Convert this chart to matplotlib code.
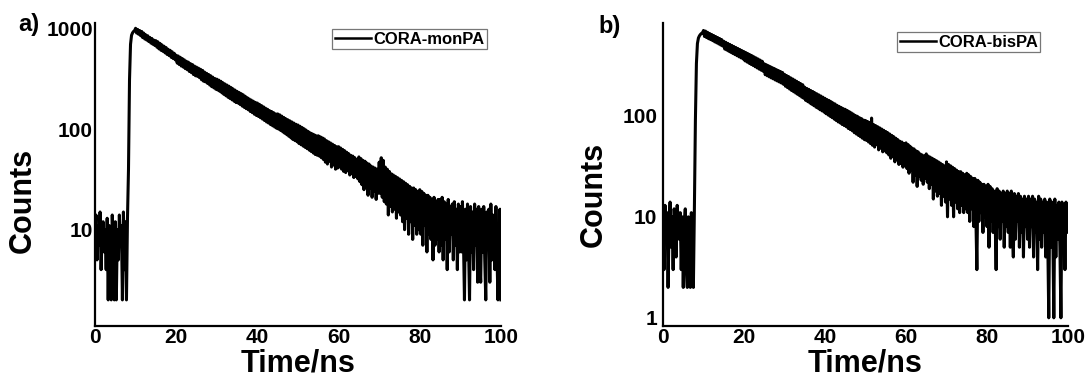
import numpy as np
import matplotlib
matplotlib.use('Agg')
import matplotlib.pyplot as plt
from matplotlib.ticker import NullLocator

plt.rcParams['font.family'] = ['Liberation Sans', 'DejaVu Sans']
plt.rcParams['font.weight'] = 'bold'

## TCSPC decay histograms, one value per 0.25 ns channel (0 - 100 ns)
channel_ns = 0.25

counts_monPA = [
    8, 14, 5, 11, 7, 15, 4, 9, 12, 6, 10, 4, 13, 2, 11, 5, 2, 14, 6, 2,
    12, 2, 10, 5, 14, 7, 11, 2, 15, 4, 12, 2, 13, 40, 310, 700, 860, 910, 940, 955,
    1010, 905, 985, 880, 960, 850, 940, 815, 905, 790, 870, 770, 850, 745, 820, 720, 800, 700, 770, 680,
    760, 655, 740, 630, 715, 610, 690, 595, 670, 575, 650, 555, 625, 540, 610, 520, 590, 505, 570, 490,
    545, 455, 535, 440, 520, 425, 505, 415, 490, 400, 475, 390, 465, 375, 450, 365, 440, 350, 425, 340,
    415, 335, 405, 325, 395, 310, 385, 300, 370, 295, 360, 285, 350, 275, 340, 265, 330, 258, 320, 250,
    315, 245, 308, 238, 300, 230, 290, 222, 282, 215, 275, 208, 268, 202, 260, 196, 252, 190, 245, 184,
    238, 182, 232, 176, 226, 170, 220, 165, 213, 160, 206, 156, 200, 150, 195, 146, 190, 141, 185, 137,
    182, 134, 177, 130, 172, 126, 167, 122, 162, 118, 158, 115, 153, 111, 150, 108, 146, 105, 142, 102,
    142, 100, 139, 97, 135, 94, 131, 91, 127, 88, 124, 85, 121, 82, 118, 79, 115, 77, 112, 75,
    110, 72, 107, 70, 104, 68, 101, 66, 98, 64, 95, 62, 92, 60, 90, 58, 88, 56, 86, 55,
    86, 54, 84, 52, 82, 50, 80, 47, 77, 45, 75, 48, 73, 42, 71, 44, 69, 40, 67, 41,
    67, 42, 65, 40, 63, 38, 61, 37, 59, 39, 57, 35, 55, 36, 54, 33, 52, 34, 50, 32,
    53, 30, 51, 28, 49, 25, 48, 27, 46, 22, 45, 26, 43, 21, 42, 24, 41, 20, 40, 23,
    47, 23, 52, 21, 49, 19, 42, 18, 40, 14, 38, 17, 36, 15, 35, 16, 34, 13, 33, 15,
    32, 14, 31, 12, 30, 10, 29, 13, 28, 9, 27, 12, 26, 8, 26, 11, 25, 9, 24, 10,
    25, 9, 24, 7, 23, 11, 22, 6, 22, 9, 21, 8, 20, 5, 21, 7, 19, 8, 20, 6,
    20, 7, 21, 5, 19, 8, 18, 4, 20, 6, 17, 9, 18, 5, 19, 7, 16, 4, 18, 6,
    17, 6, 19, 8, 2, 16, 5, 18, 7, 2, 17, 6, 15, 4, 18, 7, 16, 3, 17, 5,
    3, 16, 6, 17, 5, 2, 15, 7, 16, 3, 18, 5, 14, 6, 4, 17, 6, 2, 5, 16,
    2,
]

counts_bisPA = [
    9, 3, 13, 6, 11, 2, 8, 14, 5, 10, 3, 12, 7, 4, 13, 9, 6, 11, 3, 10,
    2, 8, 12, 3, 2, 10, 5, 2, 11, 4, 2, 12, 90, 330, 520, 590, 620, 640, 655, 660,
    700, 610, 690, 595, 672, 580, 655, 568, 640, 555, 625, 540, 610, 528, 596, 515, 582, 502, 568, 490,
    548, 458, 535, 448, 522, 436, 510, 425, 498, 414, 486, 404, 475, 394, 464, 384, 453, 375, 442, 366,
    432, 350, 422, 341, 412, 332, 402, 323, 393, 315, 383, 306, 374, 298, 365, 290, 356, 283, 347, 276,
    328, 255, 321, 249, 314, 243, 307, 237, 300, 232, 294, 226, 287, 221, 281, 216, 275, 211, 269, 205,
    258, 196, 251, 190, 245, 184, 238, 178, 232, 173, 226, 168, 220, 163, 214, 158, 208, 153, 203, 149,
    192, 142, 187, 138, 183, 134, 178, 130, 174, 126, 169, 122, 165, 119, 161, 115, 157, 112, 153, 109,
    149, 105, 145, 102, 142, 99, 138, 96, 134, 93, 131, 90, 127, 87, 124, 85, 121, 82, 118, 80,
    116, 78, 113, 75, 110, 73, 107, 71, 104, 68, 101, 66, 99, 64, 96, 62, 94, 60, 91, 58,
    90, 57, 88, 55, 86, 53, 95, 51, 82, 49, 80, 52, 78, 46, 76, 48, 74, 44, 72, 45,
    70, 43, 68, 41, 66, 38, 64, 40, 62, 35, 60, 37, 58, 33, 56, 34, 55, 31, 53, 32,
    54, 30, 52, 27, 50, 29, 48, 22, 47, 26, 45, 20, 44, 25, 42, 23, 41, 21, 40, 24,
    42, 22, 40, 19, 39, 21, 38, 15, 37, 18, 36, 16, 35, 17, 34, 13, 33, 16, 32, 14,
    35, 10, 33, 15, 32, 13, 31, 10, 30, 14, 29, 12, 28, 11, 28, 13, 27, 11, 26, 12,
    27, 11, 26, 9, 25, 12, 24, 8, 24, 10, 3, 23, 9, 22, 11, 21, 7, 21, 10, 20,
    8, 21, 5, 20, 9, 19, 7, 18, 10, 3, 19, 8, 18, 6, 17, 9, 18, 5, 17, 8,
    18, 7, 17, 5, 18, 8, 4, 17, 6, 16, 9, 17, 5, 16, 7, 15, 4, 16, 8, 15,
    6, 16, 5, 15, 8, 16, 4, 15, 7, 14, 3, 16, 6, 15, 5, 14, 7, 15, 4, 14,
    6, 1, 15, 5, 14, 7, 1, 15, 4, 13, 6, 14, 5, 1, 14, 6, 13, 3, 14, 7,
    13,
]

x_ticks = [0, 20, 40, 60, 80, 100]
y_ticks_a = [10, 100, 1000]
y_ticks_b = [1, 10, 100]

W, H = 1087, 378
fig = plt.figure(figsize=(W/100, H/100), dpi=100)

def make_panel(rect, counts, name, ylim, yticks, ypad):

    ax = fig.add_axes(rect)
    t = np.arange(len(counts))*channel_ns
    ax.plot(t, counts, color='black', lw=2.2, label=name)
    ax.set_yscale('log')
    ax.set_xlim(0, 100)
    ax.set_ylim(ylim)
    ax.set_xticks(x_ticks)
    ax.set_xticklabels([str(v) for v in x_ticks])
    ax.set_yticks(yticks)
    ax.set_yticklabels([str(v) for v in yticks])
    ax.yaxis.set_minor_locator(NullLocator())
    ax.tick_params(axis='both', length=0, labelsize=15)
    ax.tick_params(axis='x', pad=1.5)
    ax.tick_params(axis='y', pad=ypad)
    for s in ['top', 'right']:
        ax.spines[s].set_visible(False)
    for s in ['left', 'bottom']:
        ax.spines[s].set_linewidth(1.6)
    return ax

# panel a
ax1 = make_panel([95/W, 52/H, 406/W, 303/H], counts_monPA, 'CORA-monPA',
                 (1.1, 1140), y_ticks_a, 1.5)
leg = ax1.legend(loc='upper left', bbox_to_anchor=(0.584, 0.98), fontsize=12,
                 frameon=True, fancybox=False, borderpad=0.15, borderaxespad=0,
                 handlelength=2.2, handletextpad=0.1)
leg.get_frame().set_edgecolor('#555555')
leg.get_frame().set_linewidth(0.9)
for l in leg.get_lines():
    l.set_linewidth(1.8)

# panel b
ax2 = make_panel([663/W, 52/H, 405/W, 303/H], counts_bisPA, 'CORA-bisPA',
                 (0.83, 830), y_ticks_b, 4)
leg = ax2.legend(loc='upper left', bbox_to_anchor=(0.578, 0.97), fontsize=12,
                 frameon=True, fancybox=False, borderpad=0.15, borderaxespad=0,
                 handlelength=2.2, handletextpad=0.1)
leg.get_frame().set_edgecolor('#555555')
leg.get_frame().set_linewidth(0.9)
for l in leg.get_lines():
    l.set_linewidth(1.8)

label_font_size = 22

fig.text(23/W, 1 - 200/H, 'Counts', rotation=90, ha='center', va='center',
         fontsize=label_font_size, fontweight='bold')
fig.text(594/W, 1 - 194/H, 'Counts', rotation=90, ha='center', va='center',
         fontsize=label_font_size, fontweight='bold')
fig.text(298/W, 1 - 371/H, 'Time/ns', ha='center', va='baseline',
         fontsize=label_font_size, fontweight='bold')
fig.text(865/W, 1 - 371/H, 'Time/ns', ha='center', va='baseline',
         fontsize=label_font_size, fontweight='bold')

fig.text(29/W, 1 - 24/H, 'a)', ha='center', va='center', fontsize=17, fontweight='bold')
fig.text(610/W, 1 - 26/H, 'b)', ha='center', va='center', fontsize=17, fontweight='bold')

plt.savefig('out.png', dpi=100)
